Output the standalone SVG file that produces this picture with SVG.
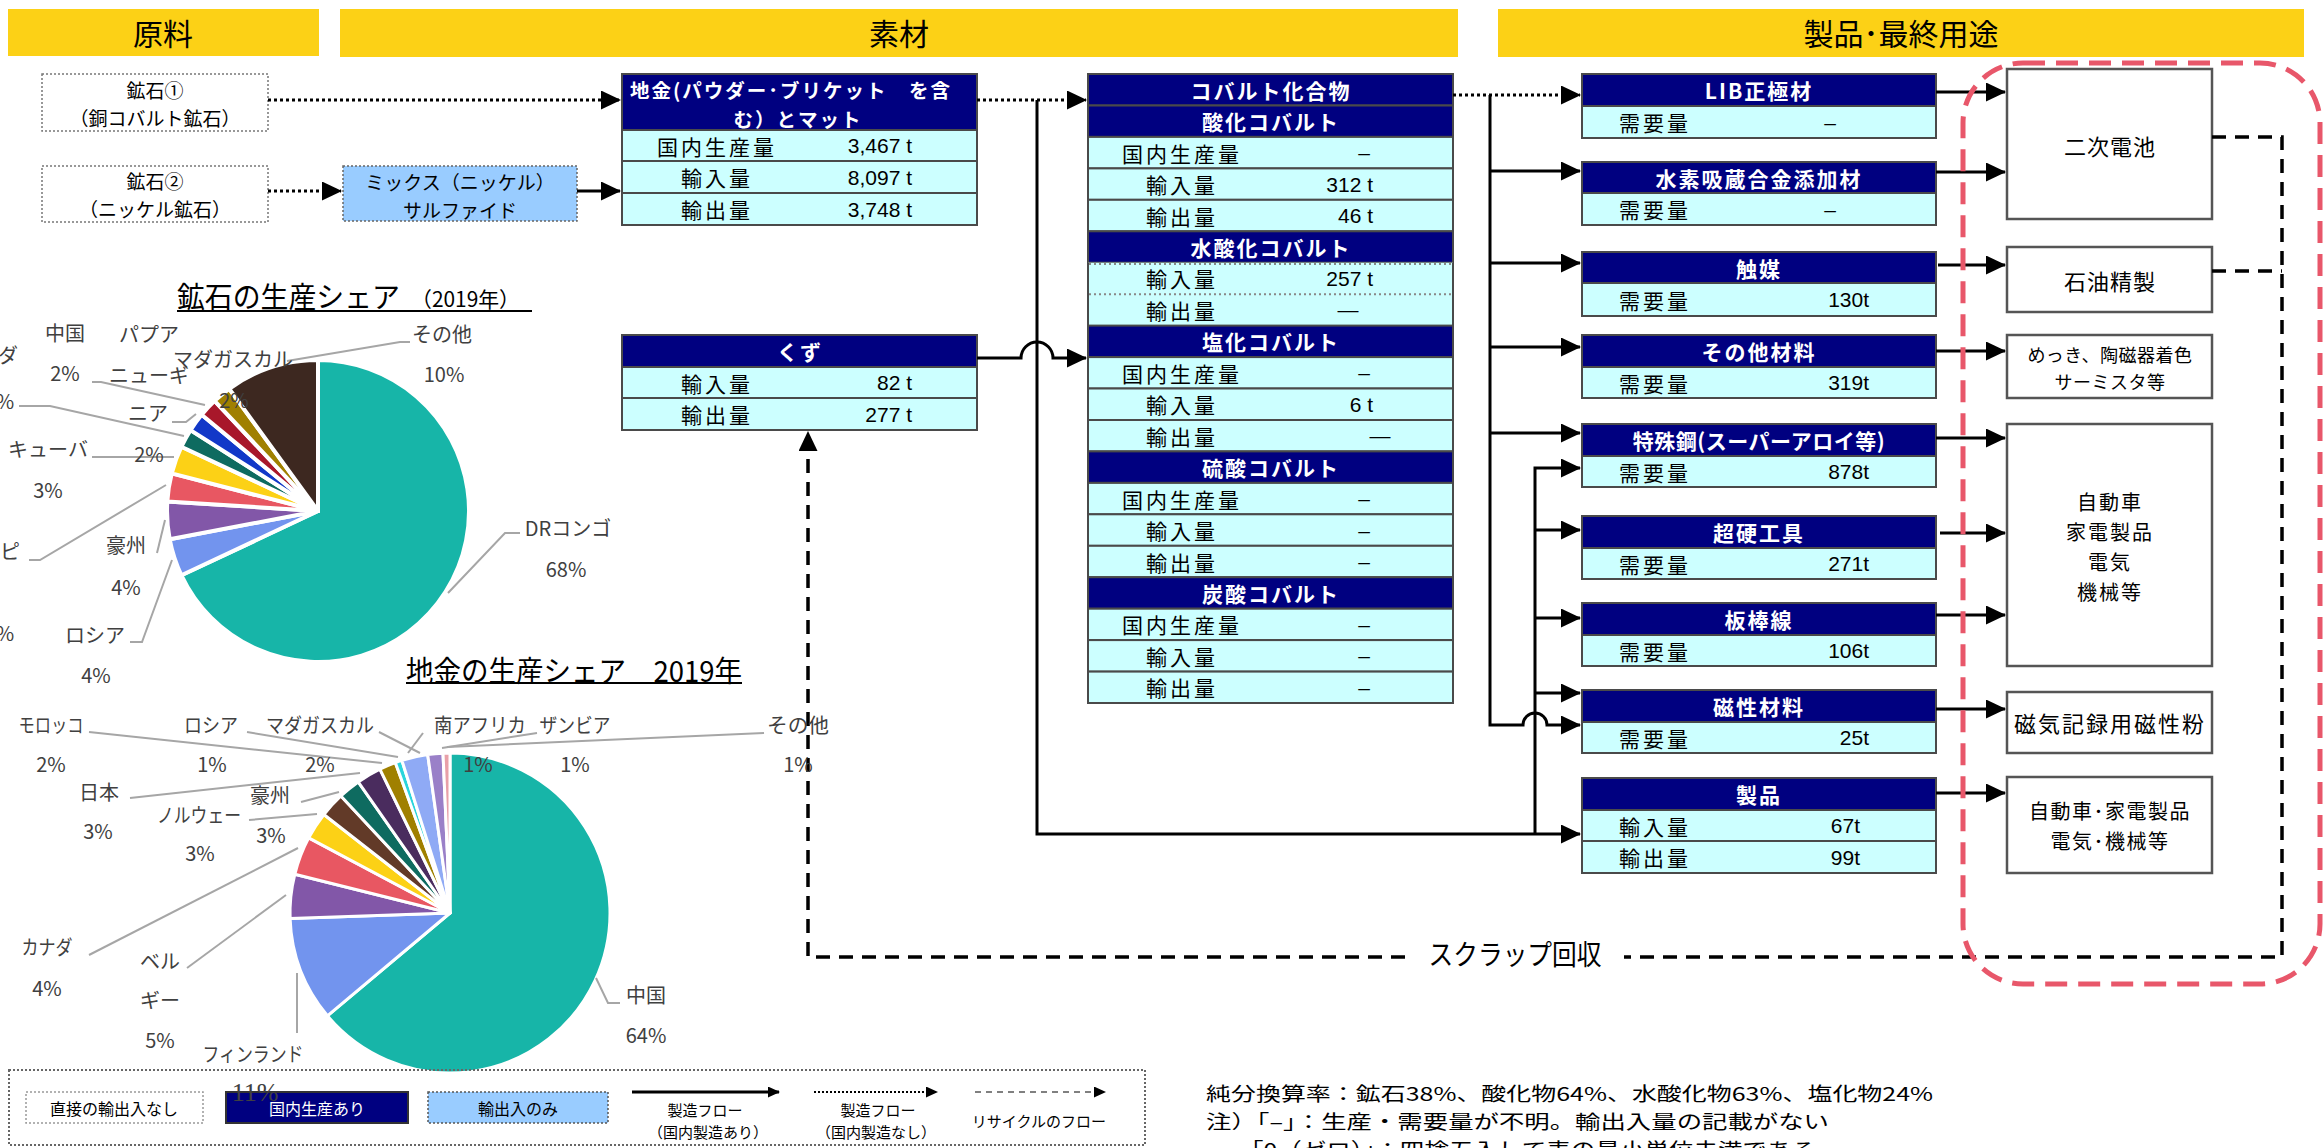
<svg xmlns="http://www.w3.org/2000/svg" width="2324" height="1148" viewBox="0 0 2324 1148">
<defs>
<marker id="ah" markerWidth="20" markerHeight="19" refX="19" refY="9.5" orient="auto" markerUnits="userSpaceOnUse"><path d="M0,0 L20,9.5 L0,19 Z" fill="#000"/></marker>
<marker id="ahs" markerWidth="12" markerHeight="11" refX="11" refY="5.5" orient="auto" markerUnits="userSpaceOnUse"><path d="M0,0 L12,5.5 L0,11 Z" fill="#000"/></marker>
</defs>
<style>
.hdr{fill:#FCD116}
.ht{font-family:"Noto Sans CJK JP",sans-serif;font-size:30px;text-anchor:middle;dominant-baseline:central;fill:#000}
.rn{fill:#000080;stroke:#4a4a4a;stroke-width:2}
.rc{fill:#CCFFFF;stroke:#4a4a4a;stroke-width:2}
.th{font-family:"Noto Sans CJK JP",sans-serif;font-size:21px;font-weight:bold;fill:#fff;text-anchor:middle;dominant-baseline:central;letter-spacing:2px}
.lb{font-family:"Noto Sans CJK JP",sans-serif;font-size:21px;fill:#000;text-anchor:middle;dominant-baseline:central;letter-spacing:3px}
.vl{font-family:"Liberation Sans","Noto Sans CJK JP",sans-serif;font-size:21px;fill:#000;text-anchor:end;dominant-baseline:central}
.dsh{font-family:"Liberation Sans","Noto Sans CJK JP",sans-serif;font-size:21px;fill:#000;text-anchor:middle;dominant-baseline:central}
.solid{stroke:#000;stroke-width:3;fill:none}
.dot{stroke:#000;stroke-width:3;fill:none;stroke-dasharray:3 3}
.dash{stroke:#000;stroke-width:3.5;fill:none;stroke-dasharray:14 9}
.pl{font-family:"Noto Sans CJK JP",sans-serif;font-size:20px;fill:#404040;text-anchor:middle;dominant-baseline:central}
.ld{stroke:#A6A6A6;stroke-width:2;fill:none}
.bt{font-family:"Noto Sans CJK JP",sans-serif;font-size:22px;fill:#000;text-anchor:middle;dominant-baseline:central;letter-spacing:1px}
.eb{fill:#fff;stroke:#555;stroke-width:2.5}
.ob{fill:#fff;stroke:#777;stroke-width:1.5;stroke-dasharray:2 2}
.ot{font-family:"Noto Sans CJK JP",sans-serif;font-size:19px;fill:#000;text-anchor:middle;dominant-baseline:central}
.s1{stroke:#fff;stroke-width:4;stroke-linejoin:round}
.s2{stroke:#fff;stroke-width:3;stroke-linejoin:round}
.lg{font-family:"Noto Sans CJK JP",sans-serif;font-size:15px;fill:#000;text-anchor:middle;dominant-baseline:central}
.nt{font-family:"Noto Sans CJK JP",sans-serif;font-size:19px;fill:#000;dominant-baseline:central}
</style>

<g id="header-genryo"><rect class="hdr" x="8" y="9" width="311" height="47"/><text class="ht" x="163" y="32">原料</text></g>
<g id="header-sozai"><rect class="hdr" x="340" y="9" width="1118" height="48"/><text class="ht" x="899" y="32">素材</text></g>
<g id="header-seihin"><rect class="hdr" x="1498" y="9" width="806" height="48"/><text class="ht" x="1901" y="32">製品･最終用途</text></g>

<g id="ore1"><rect class="ob" x="42" y="74" width="226" height="57"/><text class="ot"><tspan x="155" y="89">鉱石①</tspan><tspan x="155" y="117">（銅コバルト鉱石）</tspan></text></g>
<g id="ore2"><rect class="ob" x="42" y="166" width="226" height="56"/><text class="ot"><tspan x="155" y="180">鉱石②</tspan><tspan x="155" y="208">（ニッケル鉱石）</tspan></text></g>
<g id="mix"><rect x="343" y="166" width="234" height="55" fill="#99CCFF" stroke="#666" stroke-width="1.5" stroke-dasharray="2 2"/><text class="ot"><tspan x="460" y="181">ミックス（ニッケル）</tspan><tspan x="460" y="209">サルファイド</tspan></text></g>

<g id="jigane">
<rect class="rn" x="622" y="74" width="355" height="56"/>
<rect class="rc" x="622" y="130" width="355" height="31"/>
<rect class="rc" x="622" y="161" width="355" height="32"/>
<rect class="rc" x="622" y="193" width="355" height="32"/>
<text class="th" style="letter-spacing:2px;font-size:19.5px"><tspan x="630" y="88.5" style="text-anchor:start">地金(パウダー･ブリケット　を含</tspan><tspan x="798" y="117.5">む）とマット</tspan></text>
<text class="lb" x="717" y="145.5">国内生産量</text><text class="vl" x="912" y="145.5">3,467 t</text>
<text class="lb" x="717" y="177">輸入量</text><text class="vl" x="912" y="177">8,097 t</text>
<text class="lb" x="717" y="209">輸出量</text><text class="vl" x="912" y="209">3,748 t</text>
</g>

<g id="kuzu">
<rect class="rn" x="622" y="335" width="355" height="32"/>
<rect class="rc" x="622" y="367" width="355" height="31"/>
<rect class="rc" x="622" y="398" width="355" height="32"/>
<text class="th" x="800" y="351">くず</text>
<text class="lb" x="717" y="382.5">輸入量</text><text class="vl" x="912" y="382.5">82 t</text>
<text class="lb" x="717" y="414">輸出量</text><text class="vl" x="912" y="414">277 t</text>
</g>

<g id="cobalt">
<rect class="rn" x="1088" y="74" width="365" height="31.5"/>
<rect class="rn" x="1088" y="105.5" width="365" height="31.4"/>
<rect class="rc" x="1088" y="136.9" width="365" height="31.5"/>
<rect class="rc" x="1088" y="168.4" width="365" height="31.4"/>
<rect class="rc" x="1088" y="199.8" width="365" height="31.5"/>
<rect class="rn" x="1088" y="231.3" width="365" height="31.4"/>
<rect x="1088" y="262.7" width="365" height="62.9" fill="#CCFFFF"/>
<line x1="1088" y1="262.7" x2="1088" y2="325.6" stroke="#4a4a4a" stroke-width="2"/>
<line x1="1453" y1="262.7" x2="1453" y2="325.6" stroke="#4a4a4a" stroke-width="2"/>
<line x1="1089" y1="264" x2="1452" y2="264" stroke="#888" stroke-width="2" stroke-dasharray="2 3"/>
<line x1="1089" y1="294.2" x2="1452" y2="294.2" stroke="#888" stroke-width="2" stroke-dasharray="2 3"/>
<rect class="rn" x="1088" y="325.6" width="365" height="31.5"/>
<rect class="rc" x="1088" y="357.1" width="365" height="31.4"/>
<rect class="rc" x="1088" y="388.5" width="365" height="31.5"/>
<rect class="rc" x="1088" y="420" width="365" height="31.4"/>
<rect class="rn" x="1088" y="451.4" width="365" height="31.5"/>
<rect class="rc" x="1088" y="482.9" width="365" height="31.4"/>
<rect class="rc" x="1088" y="514.3" width="365" height="31.5"/>
<rect class="rc" x="1088" y="545.8" width="365" height="31.4"/>
<rect class="rn" x="1088" y="577.2" width="365" height="31.5"/>
<rect class="rc" x="1088" y="608.7" width="365" height="31.4"/>
<rect class="rc" x="1088" y="640.1" width="365" height="31.5"/>
<rect class="rc" x="1088" y="671.6" width="365" height="31.4"/>
<text class="th" x="1271" y="89.7">コバルト化合物</text>
<text class="th" x="1271" y="121.2">酸化コバルト</text>
<text class="lb" x="1182" y="152.6">国内生産量</text><text class="dsh" x="1364" y="152.6">–</text>
<text class="lb" x="1182" y="184.1">輸入量</text><text class="vl" x="1373" y="184.1">312 t</text>
<text class="lb" x="1182" y="215.5">輸出量</text><text class="vl" x="1373" y="215.5">46 t</text>
<text class="th" x="1271" y="247">水酸化コバルト</text>
<text class="lb" x="1182" y="278.4">輸入量</text><text class="vl" x="1373" y="278.4">257 t</text>
<text class="lb" x="1182" y="309.9">輸出量</text><text class="dsh" x="1348" y="309.9">—</text>
<text class="th" x="1271" y="341.3">塩化コバルト</text>
<text class="lb" x="1182" y="372.8">国内生産量</text><text class="dsh" x="1364" y="372.8">–</text>
<text class="lb" x="1182" y="404.2">輸入量</text><text class="vl" x="1373" y="404.2">6 t</text>
<text class="lb" x="1182" y="435.7">輸出量</text><text class="dsh" x="1380" y="435.7">—</text>
<text class="th" x="1271" y="467.1">硫酸コバルト</text>
<text class="lb" x="1182" y="498.6">国内生産量</text><text class="dsh" x="1364" y="498.6">–</text>
<text class="lb" x="1182" y="530">輸入量</text><text class="dsh" x="1364" y="530">–</text>
<text class="lb" x="1182" y="561.5">輸出量</text><text class="dsh" x="1364" y="561.5">–</text>
<text class="th" x="1271" y="592.9">炭酸コバルト</text>
<text class="lb" x="1182" y="624.4">国内生産量</text><text class="dsh" x="1364" y="624.4">–</text>
<text class="lb" x="1182" y="655.8">輸入量</text><text class="dsh" x="1364" y="655.8">–</text>
<text class="lb" x="1182" y="687.3">輸出量</text><text class="dsh" x="1364" y="687.3">–</text>
</g>

<g id="lib"><rect class="rn" x="1582" y="74" width="354" height="32"/><rect class="rc" x="1582" y="106" width="354" height="32"/><text class="th" x="1759" y="90">LIB正極材</text><text class="lb" x="1655" y="122">需要量</text><text class="dsh" x="1830" y="122">–</text></g>
<g id="suiso"><rect class="rn" x="1582" y="162" width="354" height="31"/><rect class="rc" x="1582" y="193" width="354" height="32"/><text class="th" x="1759" y="177.5">水素吸蔵合金添加材</text><text class="lb" x="1655" y="209">需要量</text><text class="dsh" x="1830" y="209">–</text></g>
<g id="shokubai"><rect class="rn" x="1582" y="252" width="354" height="31"/><rect class="rc" x="1582" y="283" width="354" height="33"/><text class="th" x="1759" y="267.5">触媒</text><text class="lb" x="1655" y="299.5">需要量</text><text class="vl" x="1869" y="299.5">130t</text></g>
<g id="sonota"><rect class="rn" x="1582" y="335" width="354" height="32"/><rect class="rc" x="1582" y="367" width="354" height="31"/><text class="th" x="1759" y="351">その他材料</text><text class="lb" x="1655" y="382.5">需要量</text><text class="vl" x="1869" y="382.5">319t</text></g>
<g id="tokushuko"><rect class="rn" x="1582" y="424" width="354" height="32"/><rect class="rc" x="1582" y="456" width="354" height="31"/><text class="th" x="1759" y="440" style="letter-spacing:0.5px">特殊鋼(スーパーアロイ等)</text><text class="lb" x="1655" y="471.5">需要量</text><text class="vl" x="1869" y="471.5">878t</text></g>
<g id="chokou"><rect class="rn" x="1582" y="516" width="354" height="32"/><rect class="rc" x="1582" y="548" width="354" height="31"/><text class="th" x="1759" y="532">超硬工具</text><text class="lb" x="1655" y="563.5">需要量</text><text class="vl" x="1869" y="563.5">271t</text></g>
<g id="bansen"><rect class="rn" x="1582" y="603" width="354" height="32"/><rect class="rc" x="1582" y="635" width="354" height="31"/><text class="th" x="1759" y="619">板棒線</text><text class="lb" x="1655" y="650.5">需要量</text><text class="vl" x="1869" y="650.5">106t</text></g>
<g id="jisei"><rect class="rn" x="1582" y="690" width="354" height="32"/><rect class="rc" x="1582" y="722" width="354" height="31"/><text class="th" x="1759" y="706">磁性材料</text><text class="lb" x="1655" y="737.5">需要量</text><text class="vl" x="1869" y="737.5">25t</text></g>
<g id="seihin"><rect class="rn" x="1582" y="778" width="354" height="32"/><rect class="rc" x="1582" y="810" width="354" height="31"/><rect class="rc" x="1582" y="841" width="354" height="32"/><text class="th" x="1759" y="794">製品</text><text class="lb" x="1655" y="825.5">輸入量</text><text class="vl" x="1860" y="825.5">67t</text><text class="lb" x="1655" y="857">輸出量</text><text class="vl" x="1860" y="857">99t</text></g>

<g id="end-battery"><rect class="eb" x="2007" y="69" width="205" height="150"/><text class="bt" x="2110" y="145">二次電池</text></g>
<g id="end-oil"><rect class="eb" x="2007" y="247" width="205" height="65"/><text class="bt" x="2110" y="280">石油精製</text></g>
<g id="end-plating"><rect class="eb" x="2007" y="335" width="205" height="63"/><text class="bt" style="font-size:18px;letter-spacing:0.5px"><tspan x="2110" y="354">めっき、陶磁器着色</tspan><tspan x="2110" y="381">サーミスタ等</tspan></text></g>
<g id="end-auto"><rect class="eb" x="2007" y="424" width="205" height="242"/><text class="bt" style="font-size:20px;letter-spacing:2px"><tspan x="2110" y="501">自動車</tspan><tspan x="2110" y="531">家電製品</tspan><tspan x="2110" y="561">電気</tspan><tspan x="2110" y="591">機械等</tspan></text></g>
<g id="end-magnetic"><rect class="eb" x="2007" y="692" width="205" height="61"/><text class="bt" x="2110" y="722" style="letter-spacing:2px">磁気記録用磁性粉</text></g>
<g id="end-products"><rect class="eb" x="2007" y="777" width="205" height="96"/><text class="bt" style="font-size:20px;letter-spacing:1.5px"><tspan x="2110" y="810">自動車･家電製品</tspan><tspan x="2110" y="840">電気･機械等</tspan></text></g>

<g id="connectors">
<path class="dot" d="M268,100 H620" marker-end="url(#ah)"/>
<path class="dot" d="M268,191 H341" marker-end="url(#ah)"/>
<path class="solid" d="M577,191 H620" marker-end="url(#ah)"/>
<path class="dot" d="M977,100 H1086" marker-end="url(#ah)"/>
<path class="solid" d="M1037,100 V834 H1580" marker-end="url(#ah)"/>
<path class="solid" d="M977,358 H1021 A16,16 0 0 1 1053,358 H1086" marker-end="url(#ah)"/>
<path class="dot" d="M1453,95 H1580" marker-end="url(#ah)"/>
<path class="solid" d="M1490,95 V725 H1523 A12,12 0 0 1 1547,725 H1580" marker-end="url(#ah)"/>
<path class="solid" d="M1490,171 H1580" marker-end="url(#ah)"/>
<path class="solid" d="M1490,263 H1580" marker-end="url(#ah)"/>
<path class="solid" d="M1490,347 H1580" marker-end="url(#ah)"/>
<path class="solid" d="M1490,433 H1580" marker-end="url(#ah)"/>
<path class="solid" d="M1535,834 V468 H1580" marker-end="url(#ah)"/>
<path class="solid" d="M1535,530 H1580" marker-end="url(#ah)"/>
<path class="solid" d="M1535,618 H1580" marker-end="url(#ah)"/>
<path class="solid" d="M1535,693 H1580" marker-end="url(#ah)"/>
<path class="solid" d="M1936,92 H2005" marker-end="url(#ah)"/>
<path class="solid" d="M1936,172 H2005" marker-end="url(#ah)"/>
<path class="solid" d="M1938,265 H2005" marker-end="url(#ah)"/>
<path class="solid" d="M1936,351 H2005" marker-end="url(#ah)"/>
<path class="solid" d="M1936,438 H2005" marker-end="url(#ah)"/>
<path class="solid" d="M1940,533 H2005" marker-end="url(#ah)"/>
<path class="solid" d="M1936,615 H2005" marker-end="url(#ah)"/>
<path class="solid" d="M1936,709 H2005" marker-end="url(#ah)"/>
<path class="solid" d="M1936,793 H2005" marker-end="url(#ah)"/>
<path class="dash" d="M2212,137 H2282 V957 H1624"/>
<path class="dash" d="M2212,271 H2282"/>
<path class="dash" d="M1405,957 H808 V432" marker-end="url(#ah)"/>
<text x="1515" y="953" style="font-family:'Noto Sans CJK JP',sans-serif;font-size:28px;text-anchor:middle;dominant-baseline:central;fill:#000" textLength="173" lengthAdjust="spacingAndGlyphs">スクラップ回収</text>
</g>

<rect id="enduse-frame" x="1963" y="63" width="357" height="921" rx="60" ry="60" fill="none" stroke="#E8576A" stroke-width="5" stroke-dasharray="22 11"/>

<g id="ore-chart">
<text x="177" y="295" style="font-family:'Noto Sans CJK JP',sans-serif;font-size:29px;dominant-baseline:central;fill:#000" textLength="223" lengthAdjust="spacingAndGlyphs">鉱石の生産シェア</text>
<text x="411" y="298" style="font-family:'Noto Sans CJK JP',sans-serif;font-size:21px;dominant-baseline:central;fill:#000" textLength="109" lengthAdjust="spacingAndGlyphs">（2019年）</text>
<line x1="177" y1="311" x2="532" y2="311" stroke="#000" stroke-width="2"/>
<path class="s1" d="M318,511 L318,360 A151,151 0 1 1 181.4,575.3 Z" fill="#17B5A8"/>
<path class="s1" d="M318,511 L181.4,575.3 A151,151 0 0 1 169.7,539.3 Z" fill="#7294EE"/>
<path class="s1" d="M318,511 L169.7,539.3 A151,151 0 0 1 167.3,501.5 Z" fill="#8257A8"/>
<path class="s1" d="M318,511 L167.3,501.5 A151,151 0 0 1 171.7,473.4 Z" fill="#E85762"/>
<path class="s1" d="M318,511 L171.7,473.4 A151,151 0 0 1 181.4,446.7 Z" fill="#FCD116"/>
<path class="s1" d="M318,511 L181.4,446.7 A151,151 0 0 1 190.5,430.1 Z" fill="#0E6B60"/>
<path class="s1" d="M318,511 L190.5,430.1 A151,151 0 0 1 201.7,414.8 Z" fill="#1238C8"/>
<path class="s1" d="M318,511 L201.7,414.8 A151,151 0 0 1 214.6,400.9 Z" fill="#A8172A"/>
<path class="s1" d="M318,511 L214.6,400.9 A151,151 0 0 1 229.2,388.8 Z" fill="#A08000"/>
<path class="s1" d="M318,511 L229.2,388.8 A151,151 0 0 1 318,360 Z" fill="#3D2820"/>
<path class="ld" d="M410,342 L400,342 L287,361"/>
<path class="ld" d="M92,382 L101,382 L205,405"/>
<path class="ld" d="M172,422 L186,422 L196,414"/>
<path class="ld" d="M19,406 L50,406 L184,436"/>
<path class="ld" d="M92,457 L174,457"/>
<path class="ld" d="M29,560 L40,560 L166,485"/>
<path class="ld" d="M157,553 L165,520"/>
<path class="ld" d="M130,642 L142,642 L172,560"/>
<path class="ld" d="M520,533 L505,533 L448,593"/>
<text class="pl" x="65" y="332">中国</text><text class="pl" x="65" y="372">2%</text>
<text class="pl" x="149" y="333">パプア</text><text class="pl" x="149" y="374">ニューギ</text><text class="pl" x="148" y="412">ニア</text><text class="pl" x="149" y="453">2%</text>
<text class="pl" x="233" y="358">マダガスカル</text><text class="pl" x="234" y="399">2%</text>
<text class="pl" x="442" y="333">その他</text><text class="pl" x="444" y="373">10%</text>
<text class="pl" x="8" y="354">ダ</text><text class="pl" x="5" y="400">%</text>
<text class="pl" x="48" y="448">キューバ</text><text class="pl" x="48" y="489">3%</text>
<text class="pl" x="10" y="550">ピ</text><text class="pl" x="5" y="632">%</text>
<text class="pl" x="126" y="544">豪州</text><text class="pl" x="126" y="586">4%</text>
<text class="pl" x="95" y="634">ロシア</text><text class="pl" x="96" y="674">4%</text>
<text class="pl" x="568" y="527">DRコンゴ</text><text class="pl" x="566" y="568">68%</text>
</g>

<g id="metal-chart">
<text x="406" y="669" style="font-family:'Noto Sans CJK JP',sans-serif;font-size:29px;dominant-baseline:central;fill:#000" textLength="336" lengthAdjust="spacingAndGlyphs">地金の生産シェア　2019年</text>
<line x1="406" y1="683" x2="742" y2="683" stroke="#000" stroke-width="2"/>
<path class="s2" d="M450,913 L450,753 A160,160 0 1 1 327.4,1015.8 Z" fill="#17B5A8"/>
<path class="s2" d="M450,913 L327.4,1015.8 A160,160 0 0 1 290.1,918.6 Z" fill="#7294EE"/>
<path class="s2" d="M450,913 L290.1,918.6 A160,160 0 0 1 294.8,874.3 Z" fill="#8257A8"/>
<path class="s2" d="M450,913 L294.8,874.3 A160,160 0 0 1 308.7,837.9 Z" fill="#E85762"/>
<path class="s2" d="M450,913 L308.7,837.9 A160,160 0 0 1 323.9,814.5 Z" fill="#FCD116"/>
<path class="s2" d="M450,913 L323.9,814.5 A160,160 0 0 1 340.9,796.0 Z" fill="#623A28"/>
<path class="s2" d="M450,913 L340.9,796.0 A160,160 0 0 1 358.2,781.9 Z" fill="#0E6B60"/>
<path class="s2" d="M450,913 L358.2,781.9 A160,160 0 0 1 379.9,769.2 Z" fill="#4A2C5E"/>
<path class="s2" d="M450,913 L379.9,769.2 A160,160 0 0 1 395.3,762.6 Z" fill="#A08000"/>
<path class="s2" d="M450,913 L395.3,762.6 A160,160 0 0 1 401.9,760.4 Z" fill="#2AD4DC"/>
<path class="s2" d="M450,913 L401.9,760.4 A160,160 0 0 1 427.7,754.6 Z" fill="#8FAAF5"/>
<path class="s2" d="M450,913 L427.7,754.6 A160,160 0 0 1 443.0,753.2 Z" fill="#9A80C8"/>
<path class="s2" d="M450,913 L443.0,753.2 A160,160 0 0 1 450,753 Z" fill="#E8A0A8"/>
<path class="ld" d="M89,732 L382,763"/>
<path class="ld" d="M247,732 L398,757"/>
<path class="ld" d="M379,732 L420,753"/>
<path class="ld" d="M423,733 L408,753"/>
<path class="ld" d="M537,733 L442,748"/>
<path class="ld" d="M764,733 L447,747"/>
<path class="ld" d="M130,798 L360,773"/>
<path class="ld" d="M301,802 L339,792"/>
<path class="ld" d="M249,820 L317,814"/>
<path class="ld" d="M89,955 L298,848"/>
<path class="ld" d="M187,968 L286,895"/>
<path class="ld" d="M297,973 L297,1033"/>
<path class="ld" d="M620,1003 L608,1003 L596,978"/>
<text class="pl" x="51" y="724" textLength="65" lengthAdjust="spacingAndGlyphs">モロッコ</text><text class="pl" x="51" y="763">2%</text>
<text class="pl" x="211" y="724" textLength="54" lengthAdjust="spacingAndGlyphs">ロシア</text><text class="pl" x="212" y="763">1%</text>
<text class="pl" x="320" y="724" textLength="108" lengthAdjust="spacingAndGlyphs">マダガスカル</text><text class="pl" x="320" y="763">2%</text>
<text class="pl" x="480" y="724" textLength="92" lengthAdjust="spacingAndGlyphs">南アフリカ</text><text class="pl" x="478" y="763">1%</text>
<text class="pl" x="575" y="724" textLength="71" lengthAdjust="spacingAndGlyphs">ザンビア</text><text class="pl" x="575" y="763">1%</text>
<text class="pl" x="798" y="724" textLength="62" lengthAdjust="spacingAndGlyphs">その他</text><text class="pl" x="798" y="763">1%</text>
<text class="pl" x="99" y="791">日本</text><text class="pl" x="98" y="830">3%</text>
<text class="pl" x="270" y="794">豪州</text><text class="pl" x="271" y="834">3%</text>
<text class="pl" x="199" y="814" textLength="84" lengthAdjust="spacingAndGlyphs">ノルウェー</text><text class="pl" x="200" y="852">3%</text>
<text class="pl" x="47" y="946" textLength="51" lengthAdjust="spacingAndGlyphs">カナダ</text><text class="pl" x="47" y="987">4%</text>
<text class="pl" x="160" y="960">ベル</text><text class="pl" x="160" y="999">ギー</text><text class="pl" x="160" y="1039">5%</text>
<text class="pl" x="253" y="1053" textLength="101" lengthAdjust="spacingAndGlyphs">フィンランド</text>
<text class="pl" x="646" y="994">中国</text><text class="pl" x="646" y="1034">64%</text>
</g>

<g id="legend">
<rect x="9" y="1070" width="1136" height="75" fill="none" stroke="#666" stroke-width="2" stroke-dasharray="2 2"/>
<rect x="26" y="1092" width="177" height="31" fill="#fff" stroke="#999" stroke-width="1.5" stroke-dasharray="2 2"/>
<text class="lg" x="114" y="1108" style="font-size:16px">直接の輸出入なし</text>
<rect x="226" y="1092" width="182" height="31" fill="#000080" stroke="#333" stroke-width="2"/>
<text class="lg" x="317" y="1108" style="fill:#fff;font-size:16px">国内生産あり</text>
<rect x="428" y="1092" width="180" height="31" fill="#99CCFF" stroke="#555" stroke-width="1.5" stroke-dasharray="2 2"/>
<text class="lg" x="518" y="1108" style="font-size:16px">輸出入のみ</text>
<path d="M632,1092 H779" stroke="#000" stroke-width="3" fill="none" marker-end="url(#ahs)"/>
<text class="lg"><tspan x="705" y="1109">製造フロー</tspan><tspan x="708" y="1131">（国内製造あり）</tspan></text>
<path d="M814,1092 H937" stroke="#000" stroke-width="2" stroke-dasharray="2 2" fill="none" marker-end="url(#ahs)"/>
<text class="lg"><tspan x="878" y="1109">製造フロー</tspan><tspan x="876" y="1131">（国内製造なし）</tspan></text>
<path d="M975,1092 H1105" stroke="#808080" stroke-width="2" stroke-dasharray="6 5" fill="none" marker-end="url(#ahs)"/>
<text class="lg" x="1039" y="1120">リサイクルのフロー</text>
<text x="255" y="1092" style="font-family:'Liberation Serif',serif;font-size:26px;fill:#404040;text-anchor:middle;dominant-baseline:central">11%</text>
</g>

<g id="notes">
<text class="nt" x="1206" y="1092" textLength="727" lengthAdjust="spacingAndGlyphs">純分換算率：鉱石38%、酸化物64%、水酸化物63%、塩化物24%</text>
<text class="nt" x="1206" y="1120" textLength="623" lengthAdjust="spacingAndGlyphs">注）「–」：生産・需要量が不明。輸出入量の記載がない</text>
<text class="nt" x="1239" y="1148" textLength="577" lengthAdjust="spacingAndGlyphs">「0（ゼロ）」：四捨五入して表の最小単位未満である</text>
</g>
</svg>
